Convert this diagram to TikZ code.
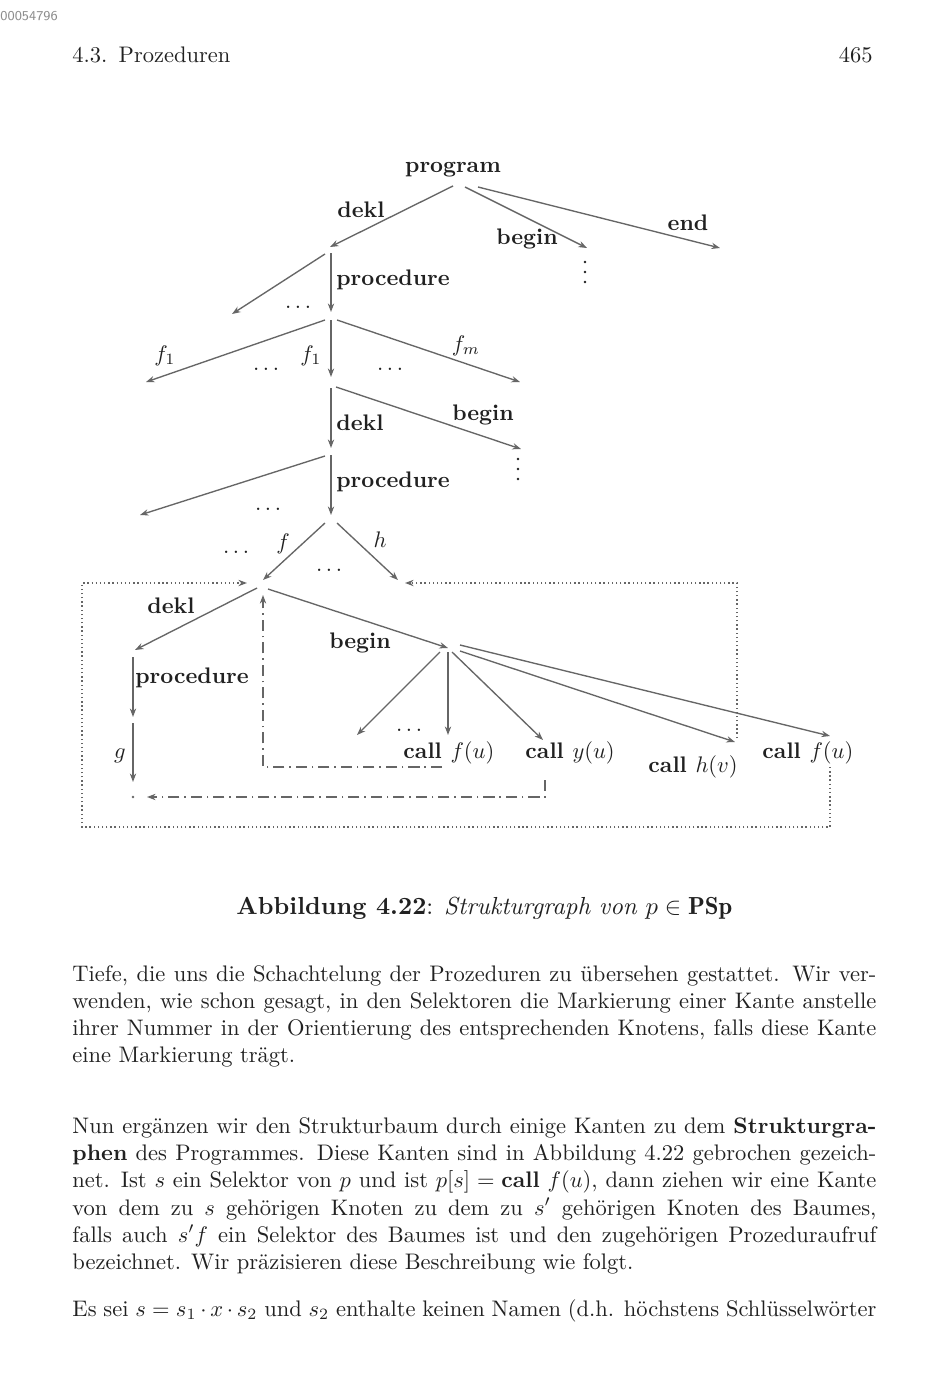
\documentclass[tikz,border=0pt]{standalone}
\usepackage{fontspec}
\usepackage{amsmath}
\usetikzlibrary{arrows.meta}
\definecolor{dk}{gray}{0.13}
\definecolor{lg}{gray}{0.40}
\newlength\tw
\setlength\tw{357.3pt}
\tikzset{
  arr/.style={draw=lg, line width=0.6pt, -{Stealth[length=3.8pt,width=2.8pt]}},
  lbl/.style={text=dk, font=\bfseries, inner sep=0pt, anchor=base},
  mlbl/.style={text=dk, inner sep=0pt, anchor=base},
  txt/.style={text=dk, inner sep=0pt, anchor=base west},
  dotline/.style={draw=lg, line width=0.75pt, dash pattern=on 0.6pt off 1.25pt, -{Stealth[length=3.8pt,width=2.8pt]}},
  dashdotline/.style={draw=lg, line width=0.6pt, dash pattern=on 5pt off 2.2pt on 0.6pt off 2.2pt, -{Stealth[length=3.8pt,width=2.8pt]}},
  vdot/.style={fill=dk}
}
\begin{document}
\begin{tikzpicture}[x=0.4444pt,y=-0.4444pt]
\useasboundingbox (0,0) rectangle (935,1400);
\fill[white] (0,0) rectangle (935,1400);

% page header
\node[anchor=west, inner sep=0pt, text=black!45, font=\sffamily\fontsize{6}{7}\selectfont] (scan) at (0,16) {00054796};
\node[txt] (sec) at (72,63) {4.3.\enspace Prozeduren};
\node[txt, anchor=base east] (pg) at (873,63) {465};

% ---------- tree ----------
\node[lbl] (prog) at (453,173) {program};
\coordinate (p0a) at (453,186);
\coordinate (p0b) at (465,187);
\coordinate (p0c) at (478,187);
\coordinate (n1) at (330,247);
\coordinate (bg1) at (587,248);
\coordinate (en1) at (720,248);
\draw[arr] (p0a) -- (n1);
\draw[arr] (p0b) -- (bg1);
\draw[arr] (p0c) -- (en1);
\node[lbl] (ldekl1) at (361,217) {dekl};
\node[lbl] (lbegin1) at (527,244) {begin};
\node[lbl] (lend1) at (688,230) {end};
\foreach \yy in {262,272,282} \fill[vdot] (585,\yy) circle (1.4);

% N1
\coordinate (n1a) at (325,254);
\coordinate (t1) at (232,314);
\coordinate (n1b) at (331,253);
\coordinate (n2in) at (331,312);
\draw[arr] (n1a) -- (t1);
\draw[arr] (n1b) -- (n2in);
\node[lbl] (lproc1) at (393,285) {procedure};
\node[mlbl] (d1) at (300,308) {$\dots$};

% N2
\coordinate (n2a) at (325,320);
\coordinate (n2b) at (331,320);
\coordinate (n2c) at (337,320);
\coordinate (t2a) at (146,382);
\coordinate (n3in) at (331,377);
\coordinate (t2c) at (520,382);
\draw[arr] (n2a) -- (t2a);
\draw[arr] (n2b) -- (n3in);
\draw[arr] (n2c) -- (t2c);
\node[mlbl] (lf1a) at (165,361) {$f_1$};
\node[mlbl] (lf1b) at (311,361) {$f_1$};
\node[mlbl] (lfm) at (466,351) {$f_m$};
\node[mlbl] (d2) at (268,370) {$\dots$};
\node[mlbl] (d3) at (392,370) {$\dots$};

% N3
\coordinate (n3a) at (331,388);
\coordinate (n3b) at (336,387);
\coordinate (n4in) at (331,448);
\coordinate (bg3) at (521,449);
\draw[arr] (n3a) -- (n4in);
\draw[arr] (n3b) -- (bg3);
\node[lbl] (ldekl3) at (360,430) {dekl};
\node[lbl] (lbegin3) at (483,420) {begin};
\foreach \yy in {459,469,479} \fill[vdot] (518,\yy) circle (1.4);

% N4
\coordinate (n4a) at (331,455);
\coordinate (n4b) at (325,456);
\coordinate (n5in) at (331,515);
\coordinate (t4) at (140,515);
\draw[arr] (n4a) -- (n5in);
\draw[arr] (n4b) -- (t4);
\node[lbl] (lproc4) at (393,487) {procedure};
\node[mlbl] (d4) at (270,510) {$\dots$};

% N5
\coordinate (n5a) at (325,523);
\coordinate (n5b) at (337,523);
\coordinate (fnode) at (263,580);
\coordinate (hnode) at (398,580);
\draw[arr] (n5a) -- (fnode);
\draw[arr] (n5b) -- (hnode);
\node[mlbl] (lf) at (283,549) {$f$};
\node[mlbl] (lh) at (380,547) {$h$};
\node[mlbl] (d5) at (238,553) {$\dots$};
\node[mlbl] (d6) at (331,571) {$\dots$};

% N6 (procedure f)
\coordinate (n6a) at (257,588);
\coordinate (n6b) at (268,589);
\coordinate (pnode) at (135,650);
\coordinate (bnode) at (448,648);
\draw[arr] (n6a) -- (pnode);
\draw[arr] (n6b) -- (bnode);
\node[lbl] (ldekl6) at (171,613) {dekl};
\node[lbl] (lbegin6) at (360,648) {begin};

% procedure / g
\coordinate (pa) at (133,657);
\coordinate (pb) at (133,717);
\coordinate (ga) at (133,723);
\coordinate (gb) at (133,782);
\draw[arr] (pa) -- (pb);
\draw[arr] (ga) -- (gb);
\node[lbl] (lproc6) at (192,683) {procedure};
\node[mlbl] (lg) at (120,758) {$g$};
\fill[lg] (133,797) circle (1.3);
\coordinate (gnode) at (147,797);

% begin node children
\coordinate (ba) at (440,652);
\coordinate (bb) at (448,652);
\coordinate (bc) at (452,652);
\coordinate (bd) at (460,651);
\coordinate (be) at (460,645);
\coordinate (ca) at (357,735);
\coordinate (cb) at (448,735);
\coordinate (cc) at (543,740);
\coordinate (cd) at (735,742);
\coordinate (ce) at (830,736);
\draw[arr] (ba) -- (ca);
\draw[arr] (bb) -- (cb);
\draw[arr] (bc) -- (cc);
\draw[arr] (bd) -- (cd);
\draw[arr] (be) -- (ce);
\node[mlbl] (d7) at (411,731) {$\dots$};

\node[txt] (callf1) at (403,758) {\bfseries call\ \normalfont$f(u)$};
\node[txt] (cally) at (525,758) {\bfseries call\ \normalfont$y(u)$};
\node[txt] (callh) at (648,772) {\bfseries call\ \normalfont$h(v)$};
\node[txt] (callf2) at (762,758) {\bfseries call\ \normalfont$f(u)$};

% dotted connectors (calls to other procedures)
\coordinate (qa) at (830,767);
\coordinate (qb) at (830,827);
\coordinate (qc) at (82,827);
\coordinate (qd) at (82,583);
\coordinate (fin) at (247,583);
\draw[dotline] (qa) -- (qb) -- (qc) -- (qd) -- (fin);
\coordinate (ra) at (737,738);
\coordinate (rb) at (737,583);
\coordinate (hin) at (405,583);
\draw[dotline] (ra) -- (rb) -- (hin);

% dash-dot connectors (recursive calls)
\coordinate (sa) at (442,767);
\coordinate (sb) at (263,767);
\coordinate (fup) at (263,595);
\draw[dashdotline] (sa) -- (sb) -- (fup);
\coordinate (ua) at (545,780);
\coordinate (ub) at (545,797);
\draw[dashdotline] (ua) -- (ub) -- (gnode);

% ---------- caption ----------
\node[txt] (cap) at (236,914) {\resizebox{220.4pt}{!}{\textbf{Abbildung 4.22}: \textit{Strukturgraph von} $p\in\mathbf{PSp}$}};

% ---------- body text ----------
\node[txt] (l1) at (72,981) {\makebox[\tw][s]{Tiefe, die uns die Schachtelung der Prozeduren zu übersehen gestattet. Wir ver-}};
\node[txt] (l2) at (72,1008) {\makebox[\tw][s]{wenden, wie schon gesagt, in den Selektoren die Markierung einer Kante anstelle}};
\node[txt] (l3) at (72,1035) {\makebox[\tw][s]{ihrer Nummer in der Orientierung des entsprechenden Knotens, falls diese Kante}};
\node[txt] (l4) at (72,1062) {eine Markierung trägt.};

\node[txt] (l5) at (72,1133) {\makebox[\tw][s]{Nun ergänzen wir den Strukturbaum durch einige Kanten zu dem \textbf{Strukturgra-}}};
\node[txt] (l6) at (72,1160) {\makebox[\tw][s]{\textbf{phen} des Programmes. Diese Kanten sind in Abbildung 4.22 gebrochen gezeich-}};
\node[txt] (l7) at (72,1187) {\makebox[\tw][s]{net. Ist $s$ ein Selektor von $p$ und ist $p[s]=\mbox{\bfseries call}\ f(u)$, dann ziehen wir eine Kante}};
\node[txt] (l8) at (72,1215) {\makebox[\tw][s]{von dem zu $s$ gehörigen Knoten zu dem zu $s'$ gehörigen Knoten des Baumes,}};
\node[txt] (l9) at (72,1242) {\makebox[\tw][s]{falls auch $s'f$ ein Selektor des Baumes ist und den zugehörigen Prozeduraufruf}};
\node[txt] (l10) at (72,1269) {bezeichnet. Wir präzisieren diese Beschreibung wie folgt.};
\node[txt] (l11) at (72,1316) {\makebox[\tw][s]{Es sei $s=s_1\cdot x\cdot s_2$ und $s_2$ enthalte keinen Namen (d.h. höchstens Schlüsselwörter}};
\end{tikzpicture}
\end{document}
